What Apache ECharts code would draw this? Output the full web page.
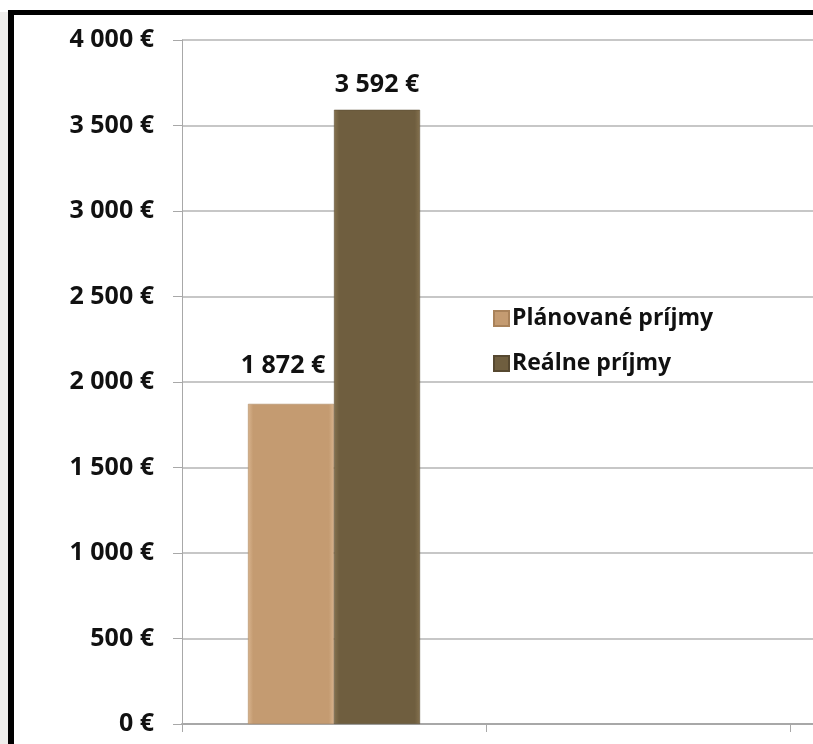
<!DOCTYPE html>
<html>
<head>
<meta charset="utf-8">
<script src="https://cdn.jsdelivr.net/npm/echarts@6/dist/echarts.min.js"></script>
<style>
  html, body { margin: 0; padding: 0; background: #fff; overflow: hidden; width: 813px; height: 744px; }
  #strip { position: absolute; left: 0; top: 12px; width: 8px; height: 732px; background: #efeeec; }
  #frame { position: absolute; left: 8px; top: 10px; width: 805px; height: 734px;
           border-left: 6px solid #000; border-top: 5px solid #000; box-sizing: border-box; }
  #chart { position: absolute; left: 0; top: 0; width: 1100px; height: 744px; }
</style>
</head>
<body>
<div id="strip"></div>
<div id="frame"></div>
<div id="chart"></div>
<script>
// kategórie (druhá a tretia sú prázdne, graf je orezaný vpravo)
var categories = ["", "", ""];
var seriesNames = ["Plánované príjmy", "Reálne príjmy"];
var planned = [1872, null, null];
var real = [3592, null, null];
var yTicks = [0, 500, 1000, 1500, 2000, 2500, 3000, 3500, 4000];

function euro(v) {
  return String(v).replace(/\B(?=(\d{3})+(?!\d))/g, " ") + " €";
}

var font = "'Open Sans', Lato, sans-serif";

function bevel(c1, c2) {
  return new echarts.graphic.LinearGradient(0, 0, 1, 0, [
    { offset: 0, color: c2 },
    { offset: 0.06, color: c1 },
    { offset: 0.94, color: c1 },
    { offset: 1, color: c2 }
  ]);
}

var myChart = echarts.init(document.getElementById("chart"));
var option = {
  animation: false,
  textStyle: { fontFamily: font },
  grid: { left: 182, top: 40, bottom: 20, right: 6, containLabel: false },
  legend: {
    orient: "vertical",
    left: 488,
    top: 302,
    icon: "rect",
    itemWidth: 15,
    itemHeight: 15,
    itemGap: 22,
    data: [
      { name: seriesNames[0], itemStyle: { color: "#c49b71" } },
      { name: seriesNames[1], itemStyle: { color: "#6f5e3f" } }
    ],
    textStyle: { fontFamily: font, fontWeight: "bold", fontSize: 23, color: "#111", padding: [0, 0, 0, -2] }
  },
  xAxis: {
    type: "category",
    data: categories,
    axisLine: { lineStyle: { color: "#a8a8a8", width: 2 } },
    axisTick: { show: true, length: 8, lineStyle: { color: "#a8a8a8" } },
    axisLabel: { show: false }
  },
  yAxis: {
    type: "value",
    min: yTicks[0],
    max: yTicks[yTicks.length - 1],
    interval: 500,
    axisLine: { show: true, lineStyle: { color: "#a8a8a8" } },
    axisTick: { show: true, length: 9, lineStyle: { color: "#a8a8a8" } },
    splitLine: { lineStyle: { color: "#b4b4b4", width: 1.5 } },
    axisLabel: {
      margin: 28,
      fontFamily: font,
      fontWeight: "bold",
      fontSize: 25,
      color: "#111",
      formatter: euro
    }
  },
  series: [
    {
      name: seriesNames[0],
      type: "bar",
      data: planned,
      barWidth: 86,
      barGap: "0%",
      itemStyle: { color: bevel("#c49b71", "#d8b48e"), borderColor: "#a9825a", borderWidth: 0.5 },
      label: {
        show: true, position: "top", distance: 12, offset: [-8, -14],
        fontFamily: font, fontWeight: "bold", fontSize: 25, color: "#111",
        formatter: function (p) { return euro(p.value); }
      }
    },
    {
      name: seriesNames[1],
      type: "bar",
      data: real,
      barWidth: 86,
      itemStyle: { color: bevel("#6f5e3f", "#85724f"), borderColor: "#564830", borderWidth: 0.5 },
      label: {
        show: true, position: "top", distance: 12,
        fontFamily: font, fontWeight: "bold", fontSize: 25, color: "#111",
        formatter: function (p) { return euro(p.value); }
      }
    }
  ]
};
myChart.setOption(option);
</script>
</body>
</html>
